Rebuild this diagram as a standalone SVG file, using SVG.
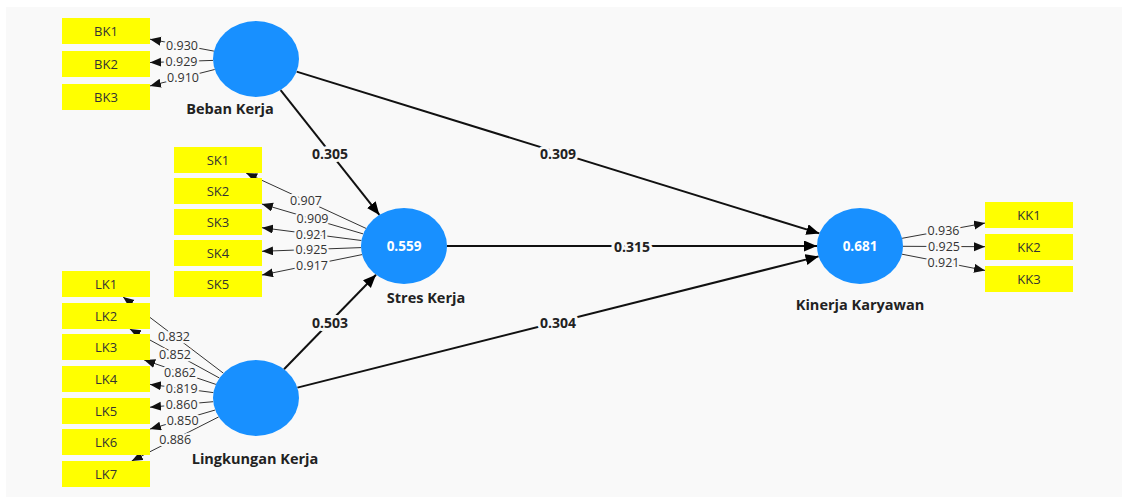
<svg xmlns="http://www.w3.org/2000/svg" width="1125" height="500" viewBox="0 0 1125 500">
<defs>
<marker id="ah" markerUnits="userSpaceOnUse" markerWidth="14" markerHeight="12" refX="13" refY="5.5" orient="auto"><path d="M0,0 L13,5.5 L0,11 z" fill="#000"/></marker>
<marker id="ahs" markerUnits="userSpaceOnUse" markerWidth="12" markerHeight="10" refX="11" refY="4.5" orient="auto"><path d="M0,0 L11,4.5 L0,9 z" fill="#111"/></marker>
<style>
.bg{fill:#f9f9f9}
.lv ellipse{fill:#1890ff}
.lv .r2{font-family:"Open Sans","Noto Sans",sans-serif;font-size:13.5px;font-weight:bold;fill:#fff;text-anchor:middle;dominant-baseline:central}
.lv .nm{font-family:"Open Sans","Noto Sans",sans-serif;font-size:14.5px;font-weight:bold;fill:#222;text-anchor:middle;dominant-baseline:central}
.ind rect{fill:#ffff00}
.ind text{font-family:"Open Sans","Noto Sans",sans-serif;font-size:13px;fill:#333;text-anchor:middle;dominant-baseline:central}
.path{stroke:#111;stroke-width:2;fill:none;marker-end:url(#ah)}
.load{stroke:#333;stroke-width:1;fill:none;marker-end:url(#ahs)}
.pl{font-family:"Open Sans","Noto Sans",sans-serif;font-size:14px;font-weight:bold;fill:#222;text-anchor:middle;dominant-baseline:central;stroke:#f9f9f9;stroke-width:6;paint-order:stroke;stroke-linejoin:round}
.ll{font-family:"Open Sans","Noto Sans",sans-serif;font-size:12.5px;fill:#333;text-anchor:middle;dominant-baseline:central;stroke:#f9f9f9;stroke-width:4.5;paint-order:stroke;stroke-linejoin:round}
</style>
</defs>
<rect class="bg" x="6" y="7" width="1116" height="490"/>

<g id="connectors">
<line class="path" x1="280.6" y1="90.1" x2="379.4" y2="214.9"/>
<line class="path" x1="296.6" y1="71.6" x2="819.4" y2="233.4"/>
<line class="path" x1="447" y1="246" x2="817" y2="246"/>
<line class="path" x1="284" y1="369.2" x2="376" y2="274.8"/>
<line class="path" x1="297.4" y1="387.6" x2="818.6" y2="256.4"/>
<text class="pl" x="330" y="153">0.305</text>
<text class="pl" x="558" y="153">0.309</text>
<text class="pl" x="632" y="246">0.315</text>
<text class="pl" x="330" y="322">0.503</text>
<text class="pl" x="558" y="322">0.304</text>

<line class="load" x1="213.9" y1="51.1" x2="150" y2="39.2"/>
<line class="load" x1="213" y1="60.4" x2="150" y2="62.5"/>
<line class="load" x1="214.7" y1="69.5" x2="150" y2="85.9"/>
<text class="ll" x="182" y="45">0.930</text>
<text class="ll" x="181.5" y="61.5">0.929</text>
<text class="ll" x="183" y="77.5">0.910</text>

<line class="load" x1="366" y1="228.4" x2="246.1" y2="173"/>
<line class="load" x1="363.2" y1="233.9" x2="261.9" y2="204"/>
<line class="load" x1="361.4" y1="240.5" x2="262" y2="227.7"/>
<line class="load" x1="361" y1="247.6" x2="262" y2="251.3"/>
<line class="load" x1="362.1" y1="254.6" x2="262" y2="275"/>
<text class="ll" x="306" y="200.5">0.907</text>
<text class="ll" x="312.5" y="218.5">0.909</text>
<text class="ll" x="311.7" y="234">0.921</text>
<text class="ll" x="311.5" y="249.5">0.925</text>
<text class="ll" x="312" y="265">0.917</text>

<line class="load" x1="223.4" y1="373.2" x2="123.1" y2="297"/>
<line class="load" x1="219.4" y1="378" x2="129.8" y2="329"/>
<line class="load" x1="215.9" y1="384.4" x2="144.2" y2="360"/>
<line class="load" x1="213.4" y1="392.6" x2="150" y2="384.4"/>
<line class="load" x1="213.2" y1="401.7" x2="150" y2="407.2"/>
<line class="load" x1="215.2" y1="410" x2="150" y2="429.1"/>
<line class="load" x1="218.7" y1="416.9" x2="131.7" y2="461"/>
<text class="ll" x="174" y="336">0.832</text>
<text class="ll" x="175" y="354">0.852</text>
<text class="ll" x="180" y="372">0.862</text>
<text class="ll" x="181.7" y="388.5">0.819</text>
<text class="ll" x="181.6" y="404.5">0.860</text>
<text class="ll" x="182.6" y="420">0.850</text>
<text class="ll" x="175.2" y="439">0.886</text>

<line class="load" x1="902.1" y1="238.3" x2="985" y2="223.1"/>
<line class="load" x1="903" y1="246.3" x2="985" y2="246.7"/>
<line class="load" x1="902" y1="254.2" x2="985" y2="270.4"/>
<text class="ll" x="943.5" y="230.5">0.936</text>
<text class="ll" x="944" y="246.5">0.925</text>
<text class="ll" x="943.5" y="262.5">0.921</text>
</g>

<g id="BebanKerja" class="lv"><ellipse cx="256" cy="59" rx="43" ry="38"/><text class="nm" x="230" y="108">Beban Kerja</text></g>
<g id="StresKerja" class="lv"><ellipse cx="404" cy="246" rx="43" ry="38"/><text class="r2" x="404" y="246">0.559</text><text class="nm" x="426" y="297">Stres Kerja</text></g>
<g id="LingkunganKerja" class="lv"><ellipse cx="256" cy="398" rx="43" ry="38"/><text class="nm" x="255" y="458">Lingkungan Kerja</text></g>
<g id="KinerjaKaryawan" class="lv"><ellipse cx="860" cy="246" rx="43" ry="38"/><text class="r2" x="860" y="246">0.681</text><text class="nm" x="860" y="304">Kinerja Karyawan</text></g>

<g id="BK1" class="ind"><rect x="62" y="18" width="88" height="26"/><text x="106" y="31">BK1</text></g>
<g id="BK2" class="ind"><rect x="62" y="51" width="88" height="26"/><text x="106" y="64">BK2</text></g>
<g id="BK3" class="ind"><rect x="62" y="84" width="88" height="26"/><text x="106" y="97">BK3</text></g>

<g id="SK1" class="ind"><rect x="174" y="147" width="88" height="26"/><text x="218" y="160">SK1</text></g>
<g id="SK2" class="ind"><rect x="174" y="178" width="88" height="26"/><text x="218" y="191">SK2</text></g>
<g id="SK3" class="ind"><rect x="174" y="209" width="88" height="26"/><text x="218" y="222">SK3</text></g>
<g id="SK4" class="ind"><rect x="174" y="240" width="88" height="26"/><text x="218" y="253">SK4</text></g>
<g id="SK5" class="ind"><rect x="174" y="271" width="88" height="26"/><text x="218" y="284">SK5</text></g>

<g id="LK1" class="ind"><rect x="62" y="271" width="88" height="26"/><text x="106" y="284">LK1</text></g>
<g id="LK2" class="ind"><rect x="62" y="303" width="88" height="26"/><text x="106" y="316">LK2</text></g>
<g id="LK3" class="ind"><rect x="62" y="334" width="88" height="26"/><text x="106" y="347">LK3</text></g>
<g id="LK4" class="ind"><rect x="62" y="366" width="88" height="26"/><text x="106" y="379">LK4</text></g>
<g id="LK5" class="ind"><rect x="62" y="398" width="88" height="26"/><text x="106" y="411">LK5</text></g>
<g id="LK6" class="ind"><rect x="62" y="429" width="88" height="26"/><text x="106" y="442">LK6</text></g>
<g id="LK7" class="ind"><rect x="62" y="461" width="88" height="26"/><text x="106" y="474">LK7</text></g>

<g id="KK1" class="ind"><rect x="985" y="202" width="88" height="26"/><text x="1029" y="215">KK1</text></g>
<g id="KK2" class="ind"><rect x="985" y="234" width="88" height="26"/><text x="1029" y="247">KK2</text></g>
<g id="KK3" class="ind"><rect x="985" y="266" width="88" height="26"/><text x="1029" y="279">KK3</text></g>
</svg>
